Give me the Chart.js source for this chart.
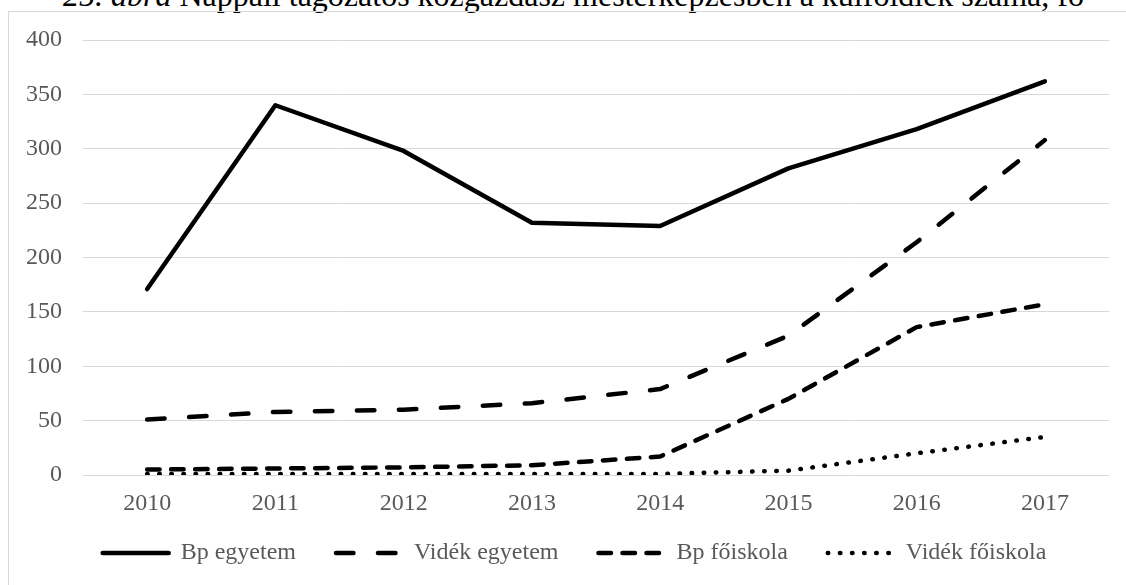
<!DOCTYPE html>
<html>
<head>
<meta charset="utf-8">
<script src="https://cdn.jsdelivr.net/npm/chart.js@4.4.1/dist/chart.umd.min.js"></script>
<style>
	body { margin: 0; background: #fff; overflow: hidden; width: 1126px; height: 585px; position: relative; }
	#title {
		position: absolute; left: 63px; top: -21px;
		font: 32px/32px 'Liberation Serif', 'Times New Roman', serif;
		color: #000; white-space: nowrap;
	}
	#frame {
		position: absolute; left: 8px; top: 11px; width: 1200px; height: 700px;
		border: 1px solid #d9d9d9;
	}
	#wrap { position: absolute; left: 0; top: 0; width: 1126px; height: 585px; }
</style>
</head>
<body>
<div id="title"><i>25. ábra</i> Nappali tagozatos közgazdász mesterképzésben a külföldiek száma, fő</div>
<div id="frame"></div>
<div id="wrap"><canvas id="myChart"></canvas></div>
<script>
// data
const years = ['2010', '2011', '2012', '2013', '2014', '2015', '2016', '2017'];
const bpEgyetem = [171, 340, 298, 232, 229, 282, 318, 362];
const videkEgyetem = [51, 58, 60, 66, 79, 128, 214, 308];
const bpFoiskola = [5, 6, 7, 9, 17, 70, 136, 157];
const videkFoiskola = [1, 1, 1, 1, 1, 4, 20, 35];
const yTicks = [0, 50, 100, 150, 200, 250, 300, 350, 400];

const serif = "'Liberation Serif', 'Times New Roman', serif";

function series(label, data, dash) {
	return {
		label: label,
		data: data,
		borderColor: '#000',
		backgroundColor: '#000',
		borderWidth: 4.5,
		borderDash: dash,
		borderCapStyle: 'round',
		borderJoinStyle: 'round',
		pointRadius: 0,
		pointHoverRadius: 0,
		tension: 0
	};
}

// legend sits a bit right of the plot centre and close under the axis labels
const legendNudge = {
	id: 'legendNudge',
	afterLayout(chart) {
		const lg = chart.legend;
		lg.left += 20;
		lg.right += 20;
		lg.top -= 19;
	}
};

const myChart = document.getElementById('myChart');

let lineChart = new Chart(myChart, {
	type: 'line',
	data: {
		labels: years,
		datasets: [
			series('Bp egyetem', bpEgyetem, []),
			series('Vidék egyetem', videkEgyetem, [17.5, 24.5]),
			series('Bp főiskola', bpFoiskola, [12.5, 11.5]),
			series('Vidék főiskola', videkFoiskola, [0.5, 11.6])
		]
	},
	plugins: [legendNudge],
	options: {
		responsive: true,
		maintainAspectRatio: false,
		animation: false,
		layout: {
			padding: { left: 0, right: 17, top: 40, bottom: 5 }
		},
		plugins: {
			title: { display: false },
			tooltip: { enabled: false },
			legend: {
				position: 'bottom',
				maxHeight: 60,
				labels: {
					usePointStyle: true,
					pointStyle: 'line',
					pointStyleWidth: 66,
					padding: 40,
					color: '#595959',
					font: { family: serif, size: 24 },
					generateLabels(chart) {
						const items = Chart.defaults.plugins.legend.labels.generateLabels(chart);
						items.forEach(item => {
							const ds = chart.data.datasets[item.datasetIndex];
							item.lineDash = ds.borderDash;
							item.lineWidth = ds.borderWidth;
							item.lineCap = 'round';
							item.strokeStyle = '#000';
						});
						return items;
					}
				}
			}
		},
		scales: {
			x: {
				offset: true,
				grid: { display: false },
				border: { display: false },
				ticks: {
					color: '#595959',
					padding: 6,
					maxRotation: 0,
					autoSkip: false,
					font: { family: serif, size: 24 }
				},
				afterFit: function (scale) { scale.height = 45; }
			},
			y: {
				min: 0,
				max: 400,
				afterBuildTicks: function (scale) {
					scale.ticks = yTicks.map(v => ({ value: v }));
				},
				grid: { color: '#d9d9d9', lineWidth: 1, drawTicks: false },
				border: { display: false },
				ticks: {
					color: '#595959',
					padding: 21,
					font: { family: serif, size: 24 }
				},
				afterFit: function (scale) { scale.width = 83; }
			}
		}
	}
});
</script>
</body>
</html>
